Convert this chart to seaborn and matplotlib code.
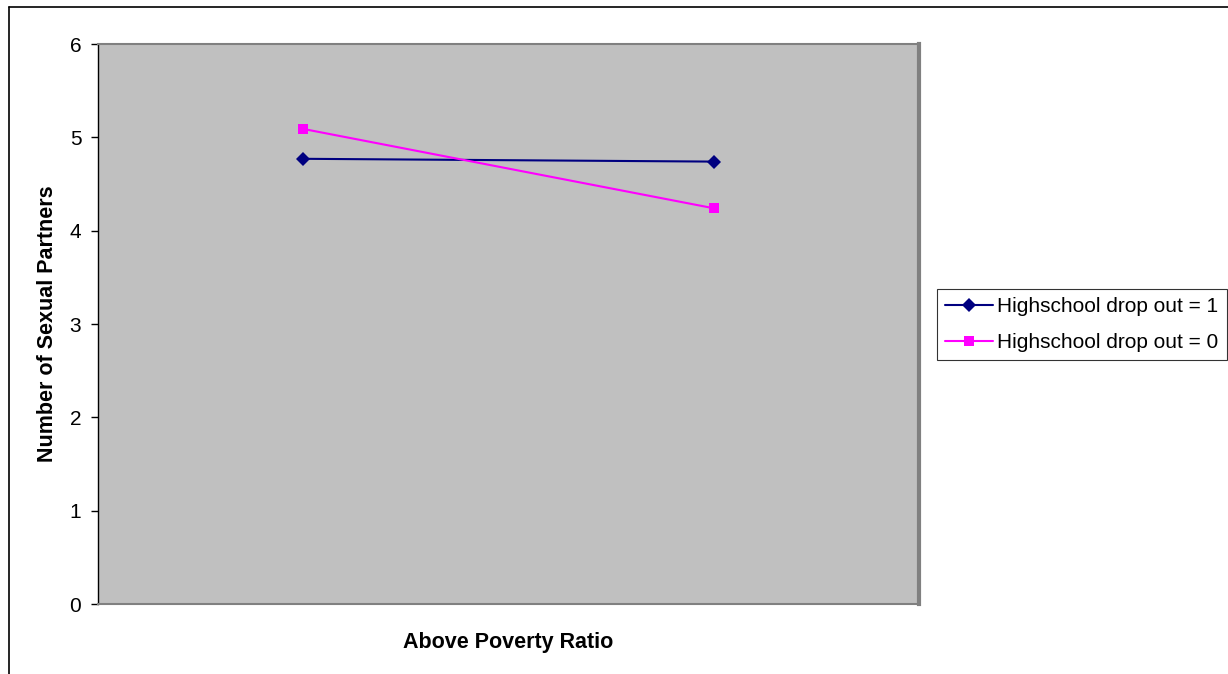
import matplotlib
matplotlib.use("Agg")
import matplotlib.pyplot as plt
import seaborn as sns
import pandas as pd

# Mean number of partners by poverty ratio group
categories = ["Below", "Above"]
dropout_1 = [4.77, 4.74]
dropout_0 = [5.09, 4.24]
series_names = ["Highschool drop out = 1", "Highschool drop out = 0"]

rows = []
for name, vals in zip(series_names, [dropout_1, dropout_0]):
    for i, (c, v) in enumerate(zip(categories, vals)):
        rows.append({"pos": i, "category": c, "value": v, "series": name})
df = pd.DataFrame(rows)

sns.set_theme(style="white")
plt.rcParams["font.family"] = ["Liberation Sans", "DejaVu Sans"]
plt.rcParams["text.color"] = "black"
plt.rcParams["axes.labelcolor"] = "black"
plt.rcParams["ytick.color"] = "black"

fig = plt.figure(figsize=(12.28, 6.74), dpi=100)
ax = fig.add_axes([98 / 1228, 1 - 604 / 674, (919 - 98) / 1228, (604 - 44) / 674])
ax.set_facecolor("#C0C0C0")

palette = {series_names[0]: "#000080", series_names[1]: "#FF00FF"}
markers = {series_names[0]: "D", series_names[1]: "s"}
sns.lineplot(data=df, x="pos", y="value", hue="series", style="series",
             palette=palette, markers=markers, dashes=False, markersize=7,
             markeredgewidth=0, linewidth=1.5, ax=ax, legend=True)

ax.set_xlim(-0.5, 1.5)
ax.set_ylim(0, 6)
ax.set_yticks(range(0, 7))
ax.set_xticks([])
ax.tick_params(axis="y", which="both", left=True, length=5, width=1,
               color="black", labelcolor="black", labelsize=15, pad=7,
               direction="out")
ax.set_xlabel("Above Poverty Ratio", fontsize=15.5, fontweight="bold",
              labelpad=20, color="black")
ax.set_ylabel("Number of Sexual Partners", fontsize=15.5, fontweight="bold",
              labelpad=8, color="black")

for side in ["top", "right", "bottom"]:
    ax.spines[side].set_color("#808080")
    ax.spines[side].set_linewidth(1.5)
ax.spines["right"].set_linewidth(3)
ax.spines["left"].set_color("black")
ax.spines["left"].set_linewidth(1)

handles, labels = ax.get_legend_handles_labels()
leg = ax.legend(handles, labels, loc="upper left",
                bbox_to_anchor=(937 / 1228, 1 - 289 / 674),
                bbox_transform=fig.transFigure, frameon=True, fancybox=False,
                edgecolor="black", fontsize=15, handlelength=2.3,
                handletextpad=0.2, borderpad=0.4, labelspacing=0.8,
                borderaxespad=0)
leg.get_frame().set_linewidth(0.8)
for t in leg.get_texts():
    t.set_color("black")

# Outer chart border
fig.add_artist(plt.Line2D([9 / 1228, 1], [1 - 7 / 674, 1 - 7 / 674],
                          transform=fig.transFigure, color="black", linewidth=1.2))
fig.add_artist(plt.Line2D([9 / 1228, 9 / 1228], [0, 1 - 7 / 674],
                          transform=fig.transFigure, color="black", linewidth=1.2))

fig.savefig("out.png", dpi=100, facecolor="white")
